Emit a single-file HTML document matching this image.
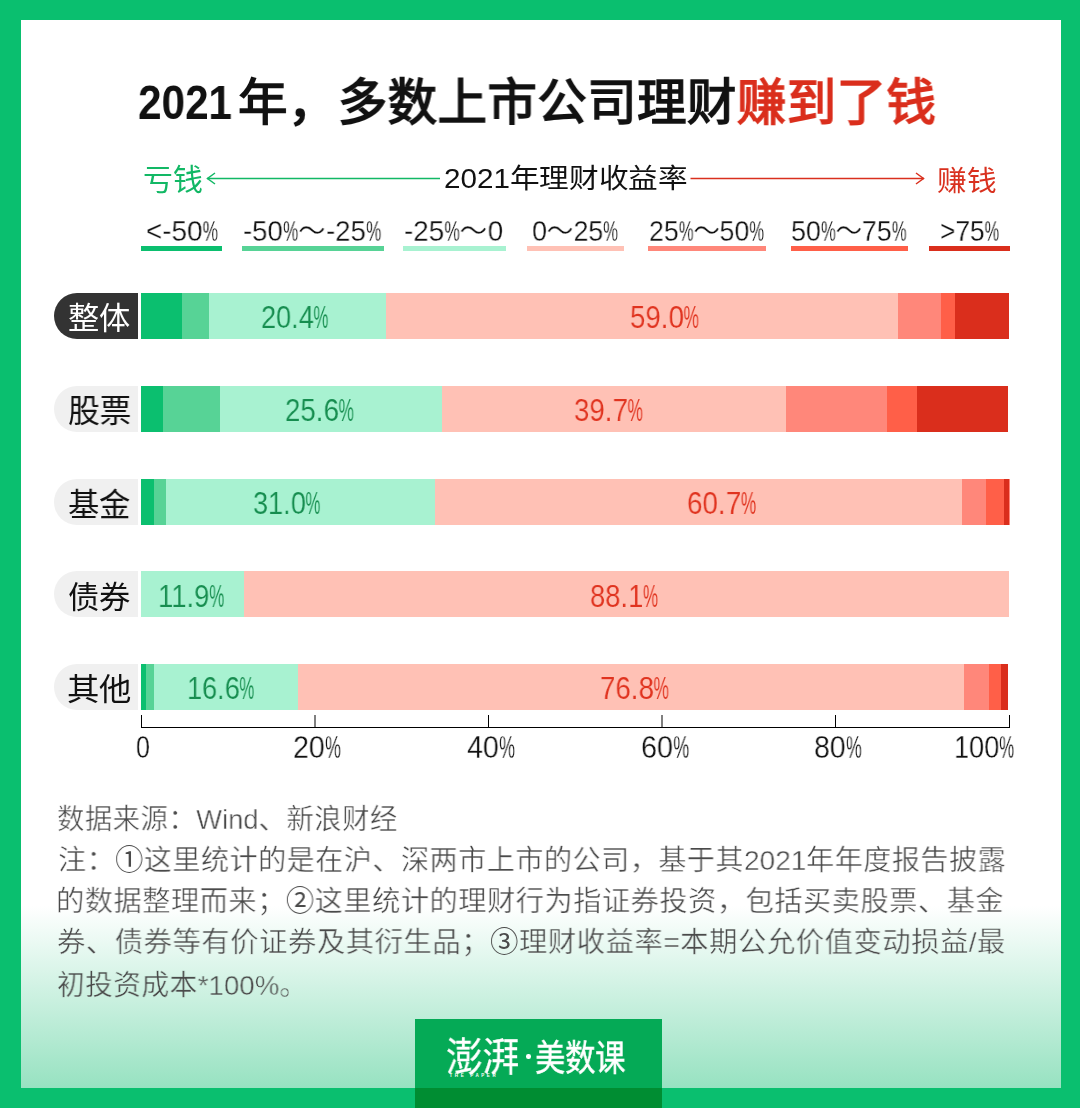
<!DOCTYPE html>
<html lang="zh-CN"><head><meta charset="utf-8">
<style>
html,body{margin:0;padding:0;}
body{width:1080px;height:1108px;position:relative;overflow:hidden;background:#0ABF6F;font-family:"Liberation Sans",sans-serif;}
.g{position:absolute;}
.t{position:absolute;white-space:nowrap;line-height:1;transform-origin:0 0;will-change:transform;}
.pc{display:inline-block;transform:scaleX(0.62);transform-origin:0 50%;margin-right:-0.338em}
</style></head>
<body>
<div class="g" style="left:21px;top:20px;width:1040px;height:1068px;background:linear-gradient(to bottom,#fff 0px,#fff 886px,#97E2C1 1068px);"></div>
<svg class="g" style="left:0;top:0" width="1080" height="300"><path d="M207 178.5 H440" stroke="#12B865" stroke-width="1.5" fill="none"/><path d="M215 173 L207.5 178.5 L215 184" stroke="#12B865" stroke-width="1.5" fill="none"/><path d="M690.5 178.5 H924" stroke="#D9301E" stroke-width="1.5" fill="none"/><path d="M916 173 L923.5 178.5 L916 184" stroke="#D9301E" stroke-width="1.5" fill="none"/></svg>
<div class="g" style="left:141.00px;top:246px;width:81.00px;height:5px;background:#0BBF6F"></div>
<div class="g" style="left:242.00px;top:246px;width:141.75px;height:5px;background:#57D396"></div>
<div class="g" style="left:403.00px;top:246px;width:102.75px;height:5px;background:#A8F2D1"></div>
<div class="g" style="left:527.00px;top:246px;width:96.75px;height:5px;background:#FFC1B5"></div>
<div class="g" style="left:647.70px;top:246px;width:117.90px;height:5px;background:#FF877A"></div>
<div class="g" style="left:790.60px;top:246px;width:117.50px;height:5px;background:#FF5F48"></div>
<div class="g" style="left:929.20px;top:246px;width:81.00px;height:5px;background:#DA2E1C"></div>
<div class="g" style="left:54px;top:293.00px;width:84px;height:46px;border-radius:23px 0 0 23px;background:#333333"></div>
<div class="g" style="left:141.00px;top:293.00px;width:868.00px;height:46px;background:#0BBF6F"></div>
<div class="g" style="left:182.00px;top:293.00px;width:827.00px;height:46px;background:#57D396"></div>
<div class="g" style="left:209.00px;top:293.00px;width:800.00px;height:46px;background:#A8F2D1"></div>
<div class="g" style="left:386.00px;top:293.00px;width:623.00px;height:46px;background:#FFC1B5"></div>
<div class="g" style="left:898.00px;top:293.00px;width:111.00px;height:46px;background:#FF877A"></div>
<div class="g" style="left:940.70px;top:293.00px;width:68.30px;height:46px;background:#FF5F48"></div>
<div class="g" style="left:955.40px;top:293.00px;width:53.60px;height:46px;background:#DA2E1C"></div>
<div class="g" style="left:54px;top:385.75px;width:84px;height:46px;border-radius:23px 0 0 23px;background:#F0F0F0"></div>
<div class="g" style="left:141.00px;top:385.75px;width:867.40px;height:46px;background:#0BBF6F"></div>
<div class="g" style="left:163.00px;top:385.75px;width:845.40px;height:46px;background:#57D396"></div>
<div class="g" style="left:219.50px;top:385.75px;width:788.90px;height:46px;background:#A8F2D1"></div>
<div class="g" style="left:441.70px;top:385.75px;width:566.70px;height:46px;background:#FFC1B5"></div>
<div class="g" style="left:786.30px;top:385.75px;width:222.10px;height:46px;background:#FF877A"></div>
<div class="g" style="left:886.90px;top:385.75px;width:121.50px;height:46px;background:#FF5F48"></div>
<div class="g" style="left:917.00px;top:385.75px;width:91.40px;height:46px;background:#DA2E1C"></div>
<div class="g" style="left:54px;top:478.50px;width:84px;height:46px;border-radius:23px 0 0 23px;background:#F0F0F0"></div>
<div class="g" style="left:141.00px;top:478.50px;width:868.50px;height:46px;background:#0BBF6F"></div>
<div class="g" style="left:153.80px;top:478.50px;width:855.70px;height:46px;background:#57D396"></div>
<div class="g" style="left:165.90px;top:478.50px;width:843.60px;height:46px;background:#A8F2D1"></div>
<div class="g" style="left:434.90px;top:478.50px;width:574.60px;height:46px;background:#FFC1B5"></div>
<div class="g" style="left:961.50px;top:478.50px;width:48.00px;height:46px;background:#FF877A"></div>
<div class="g" style="left:985.80px;top:478.50px;width:23.70px;height:46px;background:#FF5F48"></div>
<div class="g" style="left:1003.90px;top:478.50px;width:5.60px;height:46px;background:#DA2E1C"></div>
<div class="g" style="left:54px;top:571.25px;width:84px;height:46px;border-radius:23px 0 0 23px;background:#F0F0F0"></div>
<div class="g" style="left:141.00px;top:571.25px;width:868.00px;height:46px;background:#A8F2D1"></div>
<div class="g" style="left:244.30px;top:571.25px;width:764.70px;height:46px;background:#FFC1B5"></div>
<div class="g" style="left:54px;top:664.00px;width:84px;height:46px;border-radius:23px 0 0 23px;background:#F0F0F0"></div>
<div class="g" style="left:141.00px;top:664.00px;width:867.30px;height:46px;background:#0BBF6F"></div>
<div class="g" style="left:146.00px;top:664.00px;width:862.30px;height:46px;background:#57D396"></div>
<div class="g" style="left:154.00px;top:664.00px;width:854.30px;height:46px;background:#A8F2D1"></div>
<div class="g" style="left:298.00px;top:664.00px;width:710.30px;height:46px;background:#FFC1B5"></div>
<div class="g" style="left:964.30px;top:664.00px;width:44.00px;height:46px;background:#FF877A"></div>
<div class="g" style="left:988.80px;top:664.00px;width:19.50px;height:46px;background:#FF5F48"></div>
<div class="g" style="left:1000.50px;top:664.00px;width:7.80px;height:46px;background:#DA2E1C"></div>
<div class="g" style="left:141px;top:727px;width:869px;height:1px;background:#000"></div>
<div class="g" style="left:141px;top:715px;width:1px;height:12px;background:#000"></div>
<div class="g" style="left:314px;top:715px;width:2px;height:12px;background:#808080"></div>
<div class="g" style="left:488px;top:715px;width:1px;height:12px;background:#000"></div>
<div class="g" style="left:661px;top:715px;width:2px;height:12px;background:#808080"></div>
<div class="g" style="left:835px;top:715px;width:1px;height:12px;background:#000"></div>
<div class="g" style="left:1009px;top:715px;width:1px;height:12px;background:#000"></div>
<div class="g" style="left:415px;top:1019px;width:247px;height:89px;background:#05AA56"></div>
<div class="g" style="left:415px;top:1088px;width:247px;height:20px;background:#008D32"></div>
<div class="g" style="left:526px;top:1054px;width:4.5px;height:4.5px;border-radius:2.25px;background:#fff"></div>
<div class="g" style="left:449.5px;top:1074px;width:50px;height:3px;font-size:4.5px;line-height:3px;color:#fff;font-weight:bold;letter-spacing:2.6px;white-space:nowrap">THE PAPER</div>
<div class="t" id="t1" style="left:138.28px;top:78.02px;font-size:48.48px;color:#111;font-weight:bold;transform:scaleX(0.8721);">2021</div>
<div class="t" id="t2" style="left:238.00px;top:79.39px;font-size:49.60px;color:#111;font-weight:bold;transform:scaleX(0.9976);">年，多数上市公司理财<span style="color:#DA2E1C">赚到了钱</span></div>
<div class="t" id="kq" style="left:142.98px;top:164.98px;font-size:29.92px;color:#12B865;font-weight:normal;transform:scaleX(0.9997);">亏钱</div>
<div class="t" id="syl" style="left:443.94px;top:164.90px;font-size:27.12px;color:#111;font-weight:normal;transform:scaleX(1.0937);">2021年理财收益率</div>
<div class="t" id="zq" style="left:937.05px;top:166.84px;font-size:28.59px;color:#D9301E;font-weight:normal;transform:scaleX(1.0385);">赚钱</div>
<div class="t" id="r1" style="left:146.01px;top:216.17px;font-size:29.47px;color:#111;font-weight:normal;transform:scaleX(0.9443);-webkit-text-stroke:0.3px #fff;">&lt;-50<span class="pc">%</span></div>
<div class="t" id="r2" style="left:243.39px;top:215.85px;font-size:29.50px;color:#111;font-weight:normal;transform:scaleX(0.9331);-webkit-text-stroke:0.3px #fff;">-50<span class="pc">%</span>～-25<span class="pc">%</span></div>
<div class="t" id="r3" style="left:404.33px;top:215.85px;font-size:29.50px;color:#111;font-weight:normal;transform:scaleX(0.9408);-webkit-text-stroke:0.3px #fff;">-25<span class="pc">%</span>～0</div>
<div class="t" id="r4" style="left:531.80px;top:216.17px;font-size:29.47px;color:#111;font-weight:normal;transform:scaleX(0.9120);-webkit-text-stroke:0.3px #fff;">0～25<span class="pc">%</span></div>
<div class="t" id="r5" style="left:648.78px;top:216.17px;font-size:29.47px;color:#111;font-weight:normal;transform:scaleX(0.9043);-webkit-text-stroke:0.3px #fff;">25<span class="pc">%</span>～50<span class="pc">%</span></div>
<div class="t" id="r6" style="left:791.23px;top:216.17px;font-size:29.47px;color:#111;font-weight:normal;transform:scaleX(0.9083);-webkit-text-stroke:0.3px #fff;">50<span class="pc">%</span>～75<span class="pc">%</span></div>
<div class="t" id="r7" style="left:940.29px;top:216.17px;font-size:29.47px;color:#111;font-weight:normal;transform:scaleX(0.8935);-webkit-text-stroke:0.3px #fff;">&gt;75<span class="pc">%</span></div>
<div class="t" id="p0" style="left:68.00px;top:302.57px;font-size:31.20px;color:#fff;font-weight:normal;transform:scaleX(1.0034);">整体</div>
<div class="t" id="p1" style="left:67.97px;top:394.53px;font-size:32.27px;color:#111;font-weight:normal;transform:scaleX(0.9860);">股票</div>
<div class="t" id="p2" style="left:68.00px;top:488.53px;font-size:32.27px;color:#111;font-weight:normal;transform:scaleX(0.9701);">基金</div>
<div class="t" id="p3" style="left:68.00px;top:581.52px;font-size:31.20px;color:#111;font-weight:normal;transform:scaleX(1.0034);">债券</div>
<div class="t" id="p4" style="left:66.99px;top:673.57px;font-size:31.20px;color:#111;font-weight:normal;transform:scaleX(1.0373);">其他</div>
<div class="t" id="b0" style="left:261.09px;top:301.74px;font-size:31.57px;color:#168D4F;font-weight:normal;transform:scaleX(0.8600);-webkit-text-stroke:0.15px #A8F2D1;">20.4<span class="pc">%</span></div>
<div class="t" id="b1" style="left:630.08px;top:301.74px;font-size:31.57px;color:#E0331F;font-weight:normal;transform:scaleX(0.8779);-webkit-text-stroke:0.15px #FFC1B5;">59.0<span class="pc">%</span></div>
<div class="t" id="b2" style="left:285.19px;top:394.70px;font-size:31.57px;color:#168D4F;font-weight:normal;transform:scaleX(0.8779);-webkit-text-stroke:0.15px #A8F2D1;">25.6<span class="pc">%</span></div>
<div class="t" id="b3" style="left:574.08px;top:394.70px;font-size:31.57px;color:#E0331F;font-weight:normal;transform:scaleX(0.8779);-webkit-text-stroke:0.15px #FFC1B5;">39.7<span class="pc">%</span></div>
<div class="t" id="b4" style="left:253.09px;top:487.65px;font-size:31.57px;color:#168D4F;font-weight:normal;transform:scaleX(0.8600);-webkit-text-stroke:0.15px #A8F2D1;">31.0<span class="pc">%</span></div>
<div class="t" id="b5" style="left:687.07px;top:487.65px;font-size:31.57px;color:#E0331F;font-weight:normal;transform:scaleX(0.8825);-webkit-text-stroke:0.15px #FFC1B5;">60.7<span class="pc">%</span></div>
<div class="t" id="b6" style="left:158.17px;top:580.74px;font-size:31.57px;color:#168D4F;font-weight:normal;transform:scaleX(0.8690);-webkit-text-stroke:0.15px #A8F2D1;">11.9<span class="pc">%</span></div>
<div class="t" id="b7" style="left:590.21px;top:580.74px;font-size:31.57px;color:#E0331F;font-weight:normal;transform:scaleX(0.8674);-webkit-text-stroke:0.15px #FFC1B5;">88.1<span class="pc">%</span></div>
<div class="t" id="b8" style="left:187.19px;top:672.74px;font-size:31.57px;color:#168D4F;font-weight:normal;transform:scaleX(0.8591);-webkit-text-stroke:0.15px #A8F2D1;">16.6<span class="pc">%</span></div>
<div class="t" id="b9" style="left:600.19px;top:672.74px;font-size:31.57px;color:#E0331F;font-weight:normal;transform:scaleX(0.8779);-webkit-text-stroke:0.15px #FFC1B5;">76.8<span class="pc">%</span></div>
<div class="t" id="x0" style="left:136.15px;top:732.42px;font-size:31.22px;color:#111;font-weight:normal;transform:scaleX(0.8000);-webkit-text-stroke:0.3px #fff;">0</div>
<div class="t" id="x1" style="left:293.00px;top:732.42px;font-size:31.22px;color:#111;font-weight:normal;transform:scaleX(0.9168);-webkit-text-stroke:0.3px #fff;">20<span class="pc">%</span></div>
<div class="t" id="x2" style="left:466.88px;top:732.42px;font-size:31.22px;color:#111;font-weight:normal;transform:scaleX(0.9186);-webkit-text-stroke:0.3px #fff;">40<span class="pc">%</span></div>
<div class="t" id="x3" style="left:641.03px;top:732.42px;font-size:31.22px;color:#111;font-weight:normal;transform:scaleX(0.9242);-webkit-text-stroke:0.3px #fff;">60<span class="pc">%</span></div>
<div class="t" id="x4" style="left:814.11px;top:732.42px;font-size:31.22px;color:#111;font-weight:normal;transform:scaleX(0.9145);-webkit-text-stroke:0.3px #fff;">80<span class="pc">%</span></div>
<div class="t" id="x5" style="left:954.14px;top:732.42px;font-size:31.22px;color:#111;font-weight:normal;transform:scaleX(0.8698);-webkit-text-stroke:0.3px #fff;">100<span class="pc">%</span></div>
<div class="t" id="f0" style="left:56.84px;top:804.65px;font-size:28.50px;color:#4A4A4A;font-weight:normal;transform:scaleX(0.9599);-webkit-text-stroke:0.45px #FFFFFF;">数据来源：Wind、新浪财经</div>
<div class="t" id="f1" style="left:57.56px;top:846.35px;font-size:28.50px;color:#4A4A4A;font-weight:normal;transform:scaleX(0.9856);-webkit-text-stroke:0.45px #FFFFFF;">注：<span style="-webkit-text-stroke:0">①</span>这里统计的是在沪、深两市上市的公司，基于其2021年年度报告披露</div>
<div class="t" id="f2" style="left:55.99px;top:886.80px;font-size:28.50px;color:#4A4A4A;font-weight:normal;transform:scaleX(0.9907);-webkit-text-stroke:0.45px #FFFFFF;">的数据整理而来；<span style="-webkit-text-stroke:0">②</span>这里统计的理财行为指证券投资，包括买卖股票、基金</div>
<div class="t" id="f3" style="left:56.60px;top:928.20px;font-size:28.50px;color:#4A4A4A;font-weight:normal;transform:scaleX(0.9955);-webkit-text-stroke:0.45px #EBF9F3;">券、债券等有价证券及其衍生品；<span style="-webkit-text-stroke:0">③</span>理财收益率=本期公允价值变动损益/最</div>
<div class="t" id="f4" style="left:56.62px;top:971.05px;font-size:28.50px;color:#4A4A4A;font-weight:normal;transform:scaleX(0.9707);-webkit-text-stroke:0.45px #D2F3E4;">初投资成本*100%。</div>
<div class="t" id="lg1" style="left:445.96px;top:1037.82px;font-size:39.45px;color:#fff;font-weight:normal;transform:scaleX(0.9340);-webkit-text-stroke:0.3px #fff;">澎湃</div>
<div class="t" id="lg2" style="left:535.32px;top:1040.76px;font-size:36.35px;color:#fff;font-weight:normal;transform:scaleX(0.8359);-webkit-text-stroke:0.5px #fff;">美数课</div>
</body></html>
